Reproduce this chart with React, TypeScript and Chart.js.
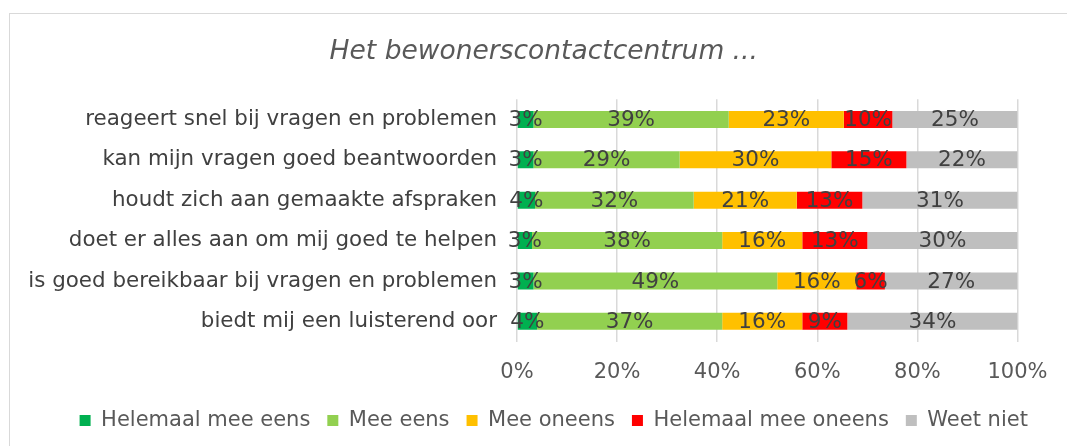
import React, { useEffect, useRef } from "react";
import { Chart, registerables } from "chart.js";

Chart.register(...registerables);

const FONT = "'DejaVu Sans', Verdana, sans-serif";

const categories = [
  "reageert snel bij vragen en problemen",
  "kan mijn vragen goed beantwoorden",
  "houdt zich aan gemaakte afspraken",
  "doet er alles aan om mij goed te helpen",
  "is goed bereikbaar bij vragen en problemen",
  "biedt mij een luisterend oor",
];
const seriesNames = [
  "Helemaal mee eens",
  "Mee eens",
  "Mee oneens",
  "Helemaal mee oneens",
  "Weet niet",
];
const helemaalMeeEens = [3.3, 3.3, 3.6, 3, 3.3, 4];
const meeEens = [39, 29.2, 31.7, 38, 48.7, 37];
const meeOneens = [23, 30.3, 20.6, 16, 15.8, 16];
const helemaalMeeOneens = [9.7, 15, 13.1, 13, 5.7, 9];
const weetNiet = [25, 22.2, 31, 30, 26.5, 34];
const seriesColors = ["#00B050", "#92D050", "#FFC000", "#FF0000", "#BFBFBF"];
const titleText = "Het bewonerscontactcentrum ...";

const labelPlugin = {
  id: "segLabels",
  afterDatasetsDraw(chart: any) {
    const ctx = chart.ctx;
    const area = chart.chartArea;
    ctx.save();
    ctx.font = `21.5px ${FONT}`;
    ctx.fillStyle = "#404040";
    ctx.textAlign = "center";
    ctx.textBaseline = "middle";
    chart.data.datasets.forEach((ds: any, i: number) => {
      const meta = chart.getDatasetMeta(i);
      meta.data.forEach((bar: any, j: number) => {
        const p = bar.getProps(["x", "y", "base"], true);
        const x2 = Math.min(p.x, area.right);
        const x1 = Math.max(p.base, area.left);
        ctx.fillText(Math.round(ds.data[j]) + "%", (x1 + x2) / 2, p.y + 1);
      });
    });
    ctx.restore();
  },
};

const shiftPlugin = {
  id: "shiftBoxes",
  afterLayout(chart: any) {
    const lg = chart.legend;
    if (lg) {
      lg.left += 45;
      lg.right += 45;
      lg.top += 2;
      lg.bottom += 2;
    }
    const tb = chart.titleBlock;
    if (tb) {
      tb.left += 35;
      tb.right += 35;
    }
  },
};

export default function App() {
  const ref = useRef<HTMLCanvasElement | null>(null);

  useEffect(() => {
    if (!ref.current) return;
    const allSeries = [helemaalMeeEens, meeEens, meeOneens, helemaalMeeOneens, weetNiet];
    const chart = new Chart(ref.current, {
      type: "bar",
      data: {
        labels: categories,
        datasets: allSeries.map((d, i) => ({
          label: seriesNames[i],
          data: d,
          backgroundColor: seriesColors[i],
          borderWidth: 0,
          barPercentage: 0.42,
          categoryPercentage: 1,
        })),
      },
      options: {
        indexAxis: "y",
        animation: false,
        responsive: false,
        maintainAspectRatio: false,
        layout: { padding: { left: 0, right: 49.5, top: 0, bottom: 7 } },
        plugins: {
          title: {
            display: true,
            text: titleText,
            color: "#595959",
            font: { family: FONT, size: 26.5, style: "italic", weight: "normal" },
            padding: { top: 36, bottom: 31.5 },
          },
          legend: {
            position: "bottom",
            labels: {
              boxWidth: 11,
              boxHeight: 11,
              color: "#595959",
              font: { family: FONT, size: 21 },
              padding: 17,
            },
          },
          tooltip: { enabled: false },
        },
        scales: {
          x: {
            stacked: true,
            min: 0,
            max: 100,
            ticks: {
              stepSize: 20,
              callback: (v: any) => v + "%",
              color: "#595959",
              font: { family: FONT, size: 21 },
              padding: 18.5,
              maxRotation: 0,
            },
            grid: { color: "#D9D9D9", lineWidth: 1.5, drawTicks: false },
            border: { display: false },
            afterFit: (s: any) => {
              s.height = 49.5;
            },
          },
          y: {
            stacked: true,
            ticks: {
              color: "#404040",
              font: { family: FONT, size: 21.4 },
              padding: 20,
            },
            grid: { display: false, drawTicks: false },
            border: { display: false },
            afterFit: (s: any) => {
              s.width = 517;
            },
          },
        },
      } as any,
      plugins: [labelPlugin, shiftPlugin],
    });
    return () => chart.destroy();
  }, []);

  return (
    <div
      style={{
        position: "absolute",
        left: 0,
        top: 0,
        width: 1067,
        height: 446,
        overflow: "hidden",
        background: "#ffffff",
      }}
    >
      <div
        style={{
          position: "absolute",
          left: 9,
          top: 13,
          width: 1100,
          height: 500,
          border: "1px solid #D9D9D9",
          boxSizing: "border-box",
        }}
      />
      <canvas
        ref={ref}
        width={1067}
        height={446}
        style={{ position: "absolute", left: 0, top: 0, display: "block" }}
      />
    </div>
  );
}
